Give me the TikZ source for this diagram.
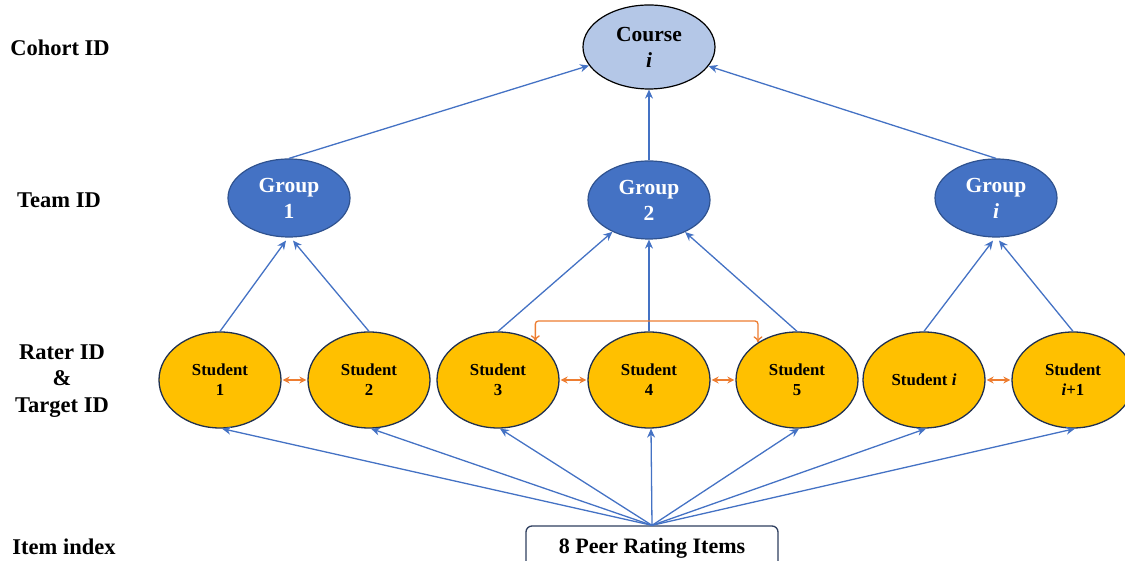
\documentclass[tikz,border=0pt]{standalone}
\usepackage{fontspec}
\setmainfont{Liberation Serif}
\usetikzlibrary{shapes.geometric,arrows.meta}
\definecolor{bluearrow}{HTML}{4472C4}
\definecolor{groupfill}{HTML}{4472C4}
\definecolor{groupdraw}{HTML}{2F528F}
\definecolor{coursefill}{HTML}{B4C7E7}
\definecolor{studfill}{HTML}{FFC000}
\definecolor{studdraw}{HTML}{1F3050}
\definecolor{orangearr}{HTML}{ED7D31}
\definecolor{boxdraw}{HTML}{2F3F5F}
\tikzset{
  lab/.style={font=\fontsize{22.5}{26.5}\selectfont\bfseries, align=center, inner sep=0pt},
  coursebox/.style={ellipse, draw=black, line width=1.2pt, fill=coursefill, minimum width=132pt, minimum height=84pt, inner sep=0pt, align=center, font=\fontsize{21.5}{26}\selectfont\bfseries},
  groupbox/.style={ellipse, draw=groupdraw, line width=1.2pt, fill=groupfill, text=white, minimum width=122pt, minimum height=78pt, inner sep=0pt, align=center, font=\fontsize{21.5}{26}\selectfont\bfseries},
  studbox/.style={ellipse, draw=studdraw, line width=1.3pt, fill=studfill, minimum width=122pt, minimum height=96pt, inner sep=0pt, align=center, font=\fontsize{16.8}{20}\selectfont\bfseries},
  itembox/.style={draw=boxdraw, line width=1.3pt, rounded corners=6pt, fill=white, minimum width=252pt, minimum height=45pt, inner sep=0pt, font=\fontsize{22}{26}\selectfont\bfseries},
  blue/.style={draw=bluearrow, line width=1.3pt, -{Stealth[length=9pt,width=8pt]}},
  orangedbl/.style={draw=orangearr, line width=1.5pt, {Stealth[length=7pt,width=7pt]}-{Stealth[length=7pt,width=7pt]}, shorten <=1pt, shorten >=1pt},
  orangebr/.style={draw=orangearr, line width=1.3pt, {To[length=6pt,width=9pt]}-{To[length=6pt,width=9pt]}, rounded corners=3pt}
}
\begin{document}
\begin{tikzpicture}[x=1pt,y=1pt]
\useasboundingbox (0,0) rectangle (1125,561);
% left labels
\node[lab] (lc) at (60,513) {Cohort ID};
\node[lab] (lt) at (59,361) {Team ID};
\node[lab] (lr) at (62,180) {Rater ID\\\&\\Target ID};
\node[lab] (li) at (64,14) {Item index};
% nodes
\node[coursebox] (c) at (649,514) {Course\\\textit{i}};
\node[groupbox] (g1) at (289,363) {Group\\1};
\node[groupbox] (g2) at (649,361) {Group\\2};
\node[groupbox] (g3) at (996,363) {Group\\\textit{i}};
\node[studbox] (s1) at (220,181) {Student\\1};
\node[studbox] (s2) at (369,181) {Student\\2};
\node[studbox] (s3) at (498,181) {Student\\3};
\node[studbox] (s4) at (649,181) {Student\\4};
\node[studbox] (s5) at (797,181) {Student\\5};
\node[studbox] (s6) at (924,181) {Student \textit{i}};
\node[studbox] (s7) at (1073,181) {Student\\\textit{i}+1};
\node[itembox] (it) at (652,12.5) {8 Peer Rating Items};
% anchors near group bottoms
\coordinate (g1l) at ([shift={(-3,-3)}]g1.south);
\coordinate (g1r) at ([shift={(4,-3)}]g1.south);
\coordinate (g3l) at ([shift={(-3,-3)}]g3.south);
\coordinate (g3r) at ([shift={(3,-3)}]g3.south);
% groups to course
\draw[blue] (g1.north) -- (c);
\draw[blue] (g2.north) -- (c.south);
\draw[blue] (g3.north) -- (c);
% students to groups
\draw[blue] (s1.north) -- (g1l);
\draw[blue] (s2.north) -- (g1r);
\draw[blue] (s3.north) -- (g2);
\draw[blue] (s4.north) -- (g2.south);
\draw[blue] (s5.north) -- (g2);
\draw[blue] (s6.north) -- (g3l);
\draw[blue] (s7.north) -- (g3r);
% items to students
\foreach \s in {s1,s2,s3,s4,s5,s6,s7}{
  \draw[blue] (it.north) -- ([xshift=2pt]\s.south);
}
% orange
\draw[orangedbl] (s1) -- (s2);
\draw[orangedbl] (s3) -- (s4);
\draw[orangedbl] (s4) -- (s5);
\draw[orangedbl] (s6) -- (s7);
\draw[orangebr] (s3.46) |- (649,240) -| (s5.136);
\end{tikzpicture}
\end{document}
